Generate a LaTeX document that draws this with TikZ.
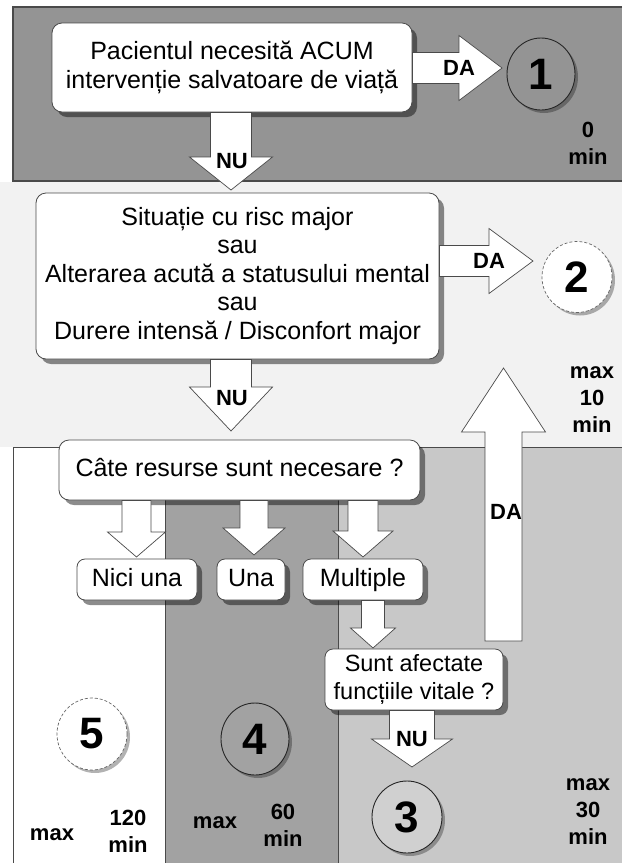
\documentclass[tikz,border=0pt]{standalone}
\usepackage{fontspec}
\setmainfont{Liberation Sans}
\usetikzlibrary{shapes.geometric,shadows,calc}
\definecolor{bandtop}{HTML}{949494}
\definecolor{bandmid}{HTML}{F2F2F2}
\definecolor{colfour}{HTML}{A2A2A2}
\definecolor{colthree}{HTML}{C8C8C8}
\definecolor{edgegray}{HTML}{4A4A4A}
% block arrows: start, tip, shaft half width, head half width, head length
\newcommand{\arrdown}[5]{%
  \draw[blk] let \p1=#1, \p2=#2 in
   (\x2-#3pt,\y1) -- (\x2+#3pt,\y1) -- (\x2+#3pt,\y2+#5pt) -- (\x2+#4pt,\y2+#5pt)
   -- (\x2,\y2) -- (\x2-#4pt,\y2+#5pt) -- (\x2-#3pt,\y2+#5pt) -- cycle;}
\newcommand{\arrright}[5]{%
  \draw[blk] let \p1=#1, \p2=#2 in
   (\x1,\y2+#3pt) -- (\x2-#5pt,\y2+#3pt) -- (\x2-#5pt,\y2+#4pt) -- (\x2,\y2)
   -- (\x2-#5pt,\y2-#4pt) -- (\x2-#5pt,\y2-#3pt) -- (\x1,\y2-#3pt) -- cycle;}
\newcommand{\arrup}[5]{%
  \draw[blk] let \p1=#1, \p2=#2 in
   (\x2-#3pt,\y1) -- (\x2+#3pt,\y1) -- (\x2+#3pt,\y2-#5pt) -- (\x2+#4pt,\y2-#5pt)
   -- (\x2,\y2) -- (\x2-#4pt,\y2-#5pt) -- (\x2-#3pt,\y2-#5pt) -- cycle;}
\begin{document}
\begin{tikzpicture}[x=1pt,y=-1pt,
  box/.style={draw=edgegray, line width=0.8pt, fill=white, rounded corners=10pt,
    align=center, inner sep=0pt, font=\fontsize{25}{28.5}\selectfont,
    drop shadow={shadow xshift=5pt, shadow yshift=-5pt, opacity=0.45, fill=black}},
  sbox/.style={box, rounded corners=8pt, text height=18pt, text depth=5pt},
  blk/.style={draw=edgegray, line width=0.7pt, fill=white, line join=miter},
  lbl/.style={font=\fontsize{22}{27}\selectfont\bfseries, align=center, inner sep=0pt},
  num/.style={ellipse, draw=black!85, line width=0.9pt, minimum width=68pt,
    minimum height=72pt, inner sep=0pt, font=\fontsize{44}{44}\selectfont\bfseries,
    drop shadow={shadow xshift=3pt, shadow yshift=-3pt, opacity=0.3, fill=black}},
  dnum/.style={num, draw=black!60, densely dashed, line width=0.7pt, fill=white}
]
\useasboundingbox (0,0) rectangle (627,863);
\fill[white] (0,0) rectangle (627,863);
% bands and columns
\fill[bandtop] (13,7) rectangle (622,181);
\draw[edgegray, line width=1.2pt] (622,7) -- (13,7) -- (13,181) -- (622,181);
\fill[bandmid] (0,182) rectangle (622,447);
\fill[colfour] (165,447) rectangle (338,863);
\fill[colthree] (338,447) rectangle (622,863);
\draw[edgegray, line width=1pt] (13,863) -- (13,447) -- (622,447);
\draw[edgegray, line width=0.8pt] (165,447) -- (165,863);
\draw[edgegray, line width=0.8pt] (338,447) -- (338,863);

% boxes
\node[box, minimum width=360pt, minimum height=89pt] (b1) at (232,67.5)
  {Pacientul necesită ACUM\\intervenție salvatoare de viață};
\node[box, minimum width=403pt, minimum height=166pt] (b2) at (237.5,276)
  {Situație cu risc major\\sau\\Alterarea acută a statusului mental\\sau\\Durere intensă / Disconfort major};
\node[box, minimum width=361pt, minimum height=60pt, text height=18pt, text depth=5pt] (b3) at (239.5,470)
  {Câte resurse sunt necesare ?};
\node[sbox, minimum width=120pt, minimum height=41pt] (bn) at (137,579.5) {Nici una};
\node[sbox, minimum width=68pt, minimum height=41pt] (bu) at (251,579.5) {Una};
\node[sbox, minimum width=120pt, minimum height=41pt] (bm) at (363,579.5) {Multiple};
\node[box, rounded corners=8pt, minimum width=178pt, minimum height=61pt, font=\fontsize{23.5}{28}\selectfont] (bs) at (414,679.5)
  {Sunt afectate\\funcțiile vitale ?};

% circles
\node[num, fill=bandtop] (c1) at (541,74) {1};
\node[dnum, minimum width=70pt, minimum height=71pt] (c2) at (577,277) {2};
\node[num, fill=colthree!85!white, minimum width=70pt] (c3) at (407,817) {3};
\node[num, fill=colfour] (c4) at (255,739) {4};
\node[dnum, minimum width=70pt] (c5) at (92,734) {5};

% arrow tips
\coordinate (t1) at (231,190);
\coordinate (t2) at (502,68);
\coordinate (t3) at (533,261);
\coordinate (t4) at (231,431);
\coordinate (t5) at (503.5,368);
\coordinate (s5) at (503.5,641);
\coordinate (ta) at (136.5,557);
\coordinate (tb) at (254,555);
\coordinate (tc) at (363,557);
\coordinate (td) at (373,648);
\coordinate (te) at (412,767);

\arrdown{(b1.south)}{(t1)}{20.5}{41.5}{33}
\arrright{(b1.east)}{(t2)}{15.5}{32.5}{43}
\arrright{(b2.east)}{(t3)}{15.5}{32.5}{44}
\arrdown{(b2.south)}{(t4)}{20.5}{41.5}{44}
\arrup{(s5)}{(t5)}{18.5}{42}{64}
\arrdown{(b3.south)}{(ta)}{14.5}{29}{25}
\arrdown{(b3.south)}{(tb)}{14}{31}{27}
\arrdown{(b3.south)}{(tc)}{15}{30}{26}
\arrdown{(bm.south)}{(td)}{11.5}{22.5}{20}
\arrdown{(bs.south)}{(te)}{22.5}{40.5}{28}

% arrow labels
\node[lbl] (n1) at (232,161) {NU};
\node[lbl] (d1) at (459,68) {DA};
\node[lbl] (d2) at (489,261) {DA};
\node[lbl] (n2) at (232,398) {NU};
\node[lbl] (d3) at (506,512) {DA};
\node[lbl] (n3) at (412,739) {NU};

% time labels
\node[lbl] (m1) at (588,143.5) {0\\min};
\node[lbl] (m2) at (592,400) {max\\10\\min};
\node[lbl] (m3) at (588,812) {max\\30\\min};
\node[lbl] (m4a) at (52,835) {max};
\node[lbl] (m4b) at (128,831.5) {120\\min};
\node[lbl] (m5a) at (215,823) {max};
\node[lbl] (m5b) at (283,825.5) {60\\min};
\end{tikzpicture}
\end{document}
